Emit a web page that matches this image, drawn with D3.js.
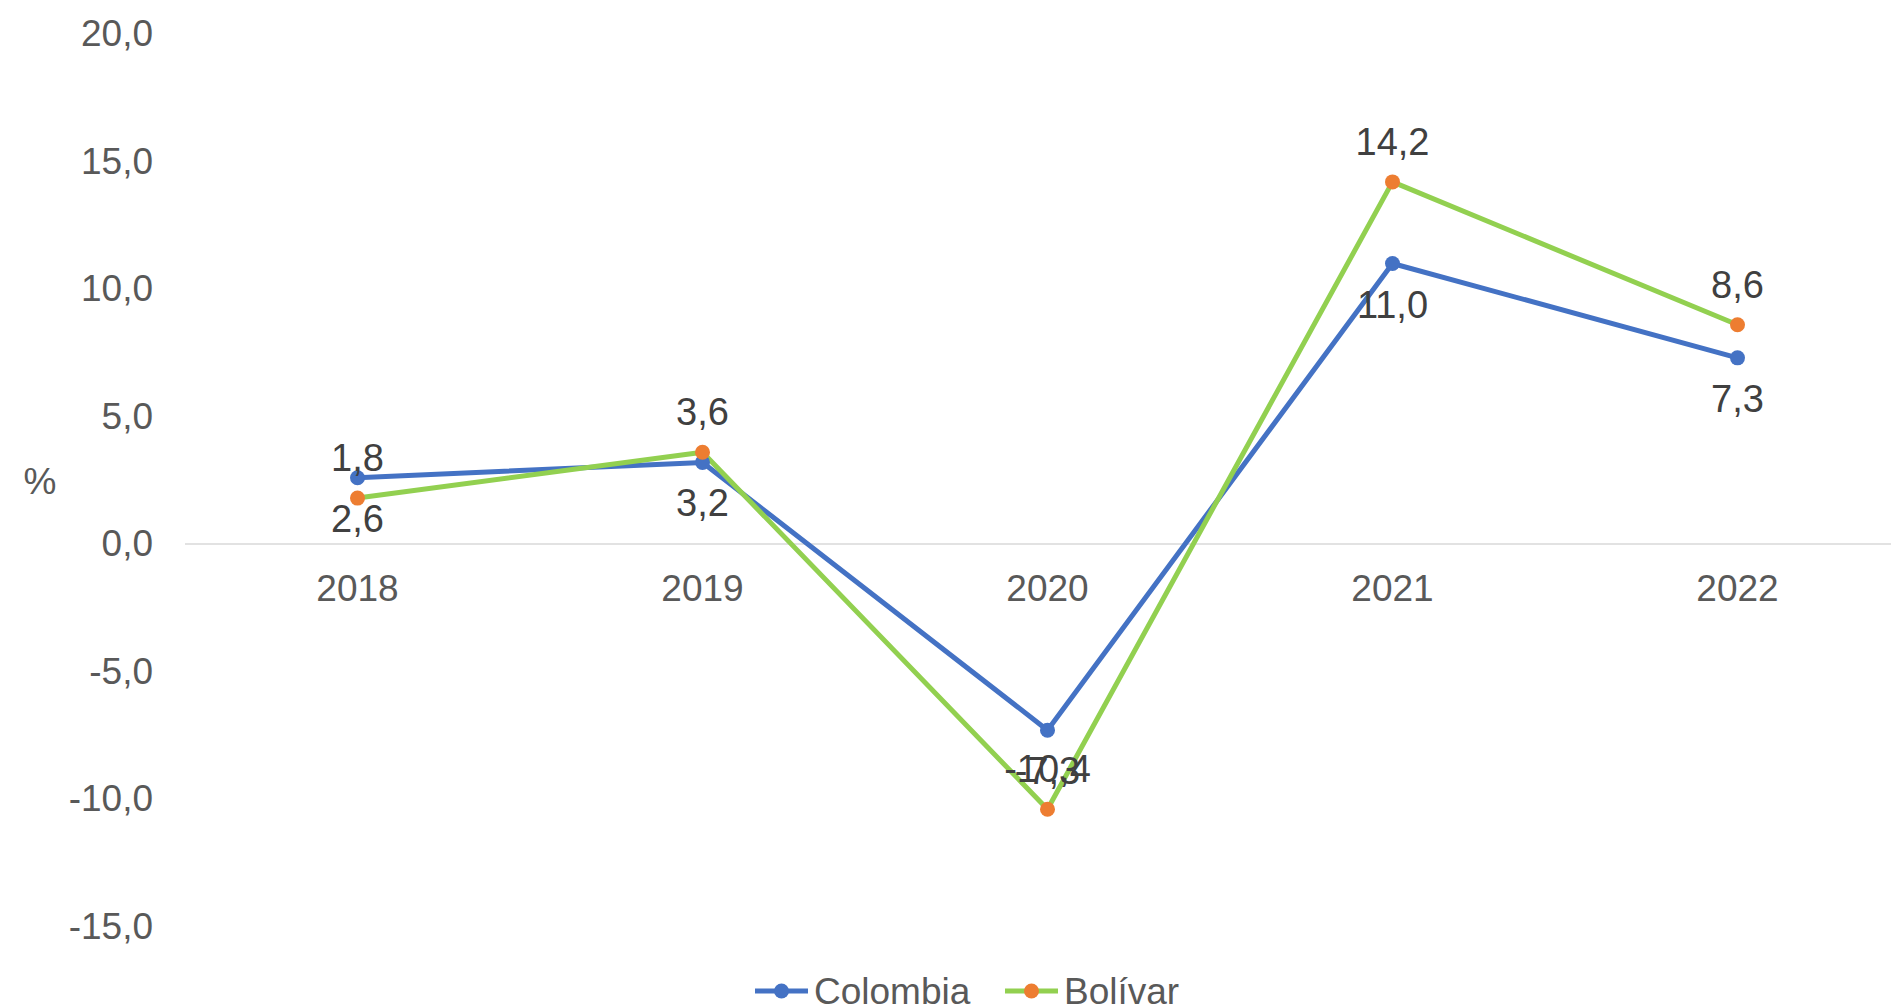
<!DOCTYPE html>
<html>
<head>
<meta charset="utf-8">
<script src="https://cdn.jsdelivr.net/npm/d3@7"></script>
<style>
  html, body { margin: 0; padding: 0; background: #fff; overflow: hidden; }
  text { font-family: "Liberation Sans", Arial, sans-serif; }
</style>
</head>
<body>
<svg id="chart"></svg>
<script>
// data
const years = ["2018", "2019", "2020", "2021", "2022"];
const colombia = [2.6, 3.2, -7.3, 11.0, 7.3];
const bolivar = [1.8, 3.6, -10.4, 14.2, 8.6];
const yTicks = [-15, -10, -5, 0, 5, 10, 15, 20];

const width = 1891, height = 1008;
const svg = d3.select("#chart").attr("width", width).attr("height", height);

const x = d3.scaleBand().domain(years).range([185, 1910]);
const y = d3.scaleLinear().domain([-15, 20]).range([926.5, 34]);
// comma decimal, plain hyphen for negatives
const fmt = v => d3.format(".1f")(v).replace(".", ",").replace("−", "-");

// zero line
svg.append("line")
    .attr("x1", 185).attr("x2", width)
    .attr("y1", y(0)).attr("y2", y(0))
    .attr("stroke", "#d9d9d9").attr("stroke-width", 1.5);

// y axis labels
const yAxis = d3.axisLeft(y).tickValues(yTicks).tickFormat(fmt).tickSize(0).tickPadding(0);
const yg = svg.append("g").attr("transform", "translate(153,0)").call(yAxis);
yg.select(".domain").remove();
yg.selectAll("text").attr("font-size", 37).attr("fill", "#595959")
    .style("font-family", "'Liberation Sans', Arial, sans-serif");

// x axis labels
const xAxis = d3.axisBottom(x).tickSize(0).tickPadding(0);
const xg = svg.append("g").attr("transform", `translate(0,${y(0) + 31})`).call(xAxis);
xg.select(".domain").remove();
xg.selectAll("text").attr("font-size", 37).attr("fill", "#595959")
    .style("font-family", "'Liberation Sans', Arial, sans-serif");

svg.append("text").attr("x", 40).attr("y", 494).attr("text-anchor", "middle")
    .attr("font-size", 37).attr("fill", "#595959").text("%");

const series = [
    { name: "Colombia", values: colombia, line: "#4472c4", marker: "#4472c4", labelDy: 54 },
    { name: "Bolívar", values: bolivar, line: "#92d050", marker: "#ed7d31", labelDy: -27 }
];

const cx = d => x(d) + x.bandwidth() / 2;
const line = d3.line().x((d, i) => cx(years[i])).y(d => y(d));

series.forEach(s => {
    svg.append("path").datum(s.values).attr("d", line)
        .attr("fill", "none").attr("stroke", s.line).attr("stroke-width", 5)
        .attr("stroke-linejoin", "round");
});
series.forEach(s => {
    svg.append("g").selectAll("circle").data(s.values).join("circle")
        .attr("cx", (d, i) => cx(years[i])).attr("cy", d => y(d)).attr("r", 7.5)
        .attr("fill", s.marker);
});
series.forEach(s => {
    svg.append("g").selectAll("text").data(s.values).join("text")
        .attr("x", (d, i) => cx(years[i])).attr("y", d => y(d) + s.labelDy)
        .attr("text-anchor", "middle").attr("font-size", 38).attr("fill", "#404040")
        .text(fmt);
});

// legend
const legend = svg.append("g").attr("transform", "translate(0,991)");
const legendItems = [
    { s: series[0], x0: 755 },
    { s: series[1], x0: 1005 }
];
legendItems.forEach(({ s, x0 }) => {
    legend.append("line").attr("x1", x0).attr("x2", x0 + 53).attr("y1", 0).attr("y2", 0)
        .attr("stroke", s.line).attr("stroke-width", 5);
    legend.append("circle").attr("cx", x0 + 26.5).attr("cy", 0).attr("r", 7.5).attr("fill", s.marker);
    legend.append("text").attr("x", x0 + 59).attr("y", 13).attr("font-size", 37)
        .attr("fill", "#595959").text(s.name);
});
</script>
</body>
</html>
